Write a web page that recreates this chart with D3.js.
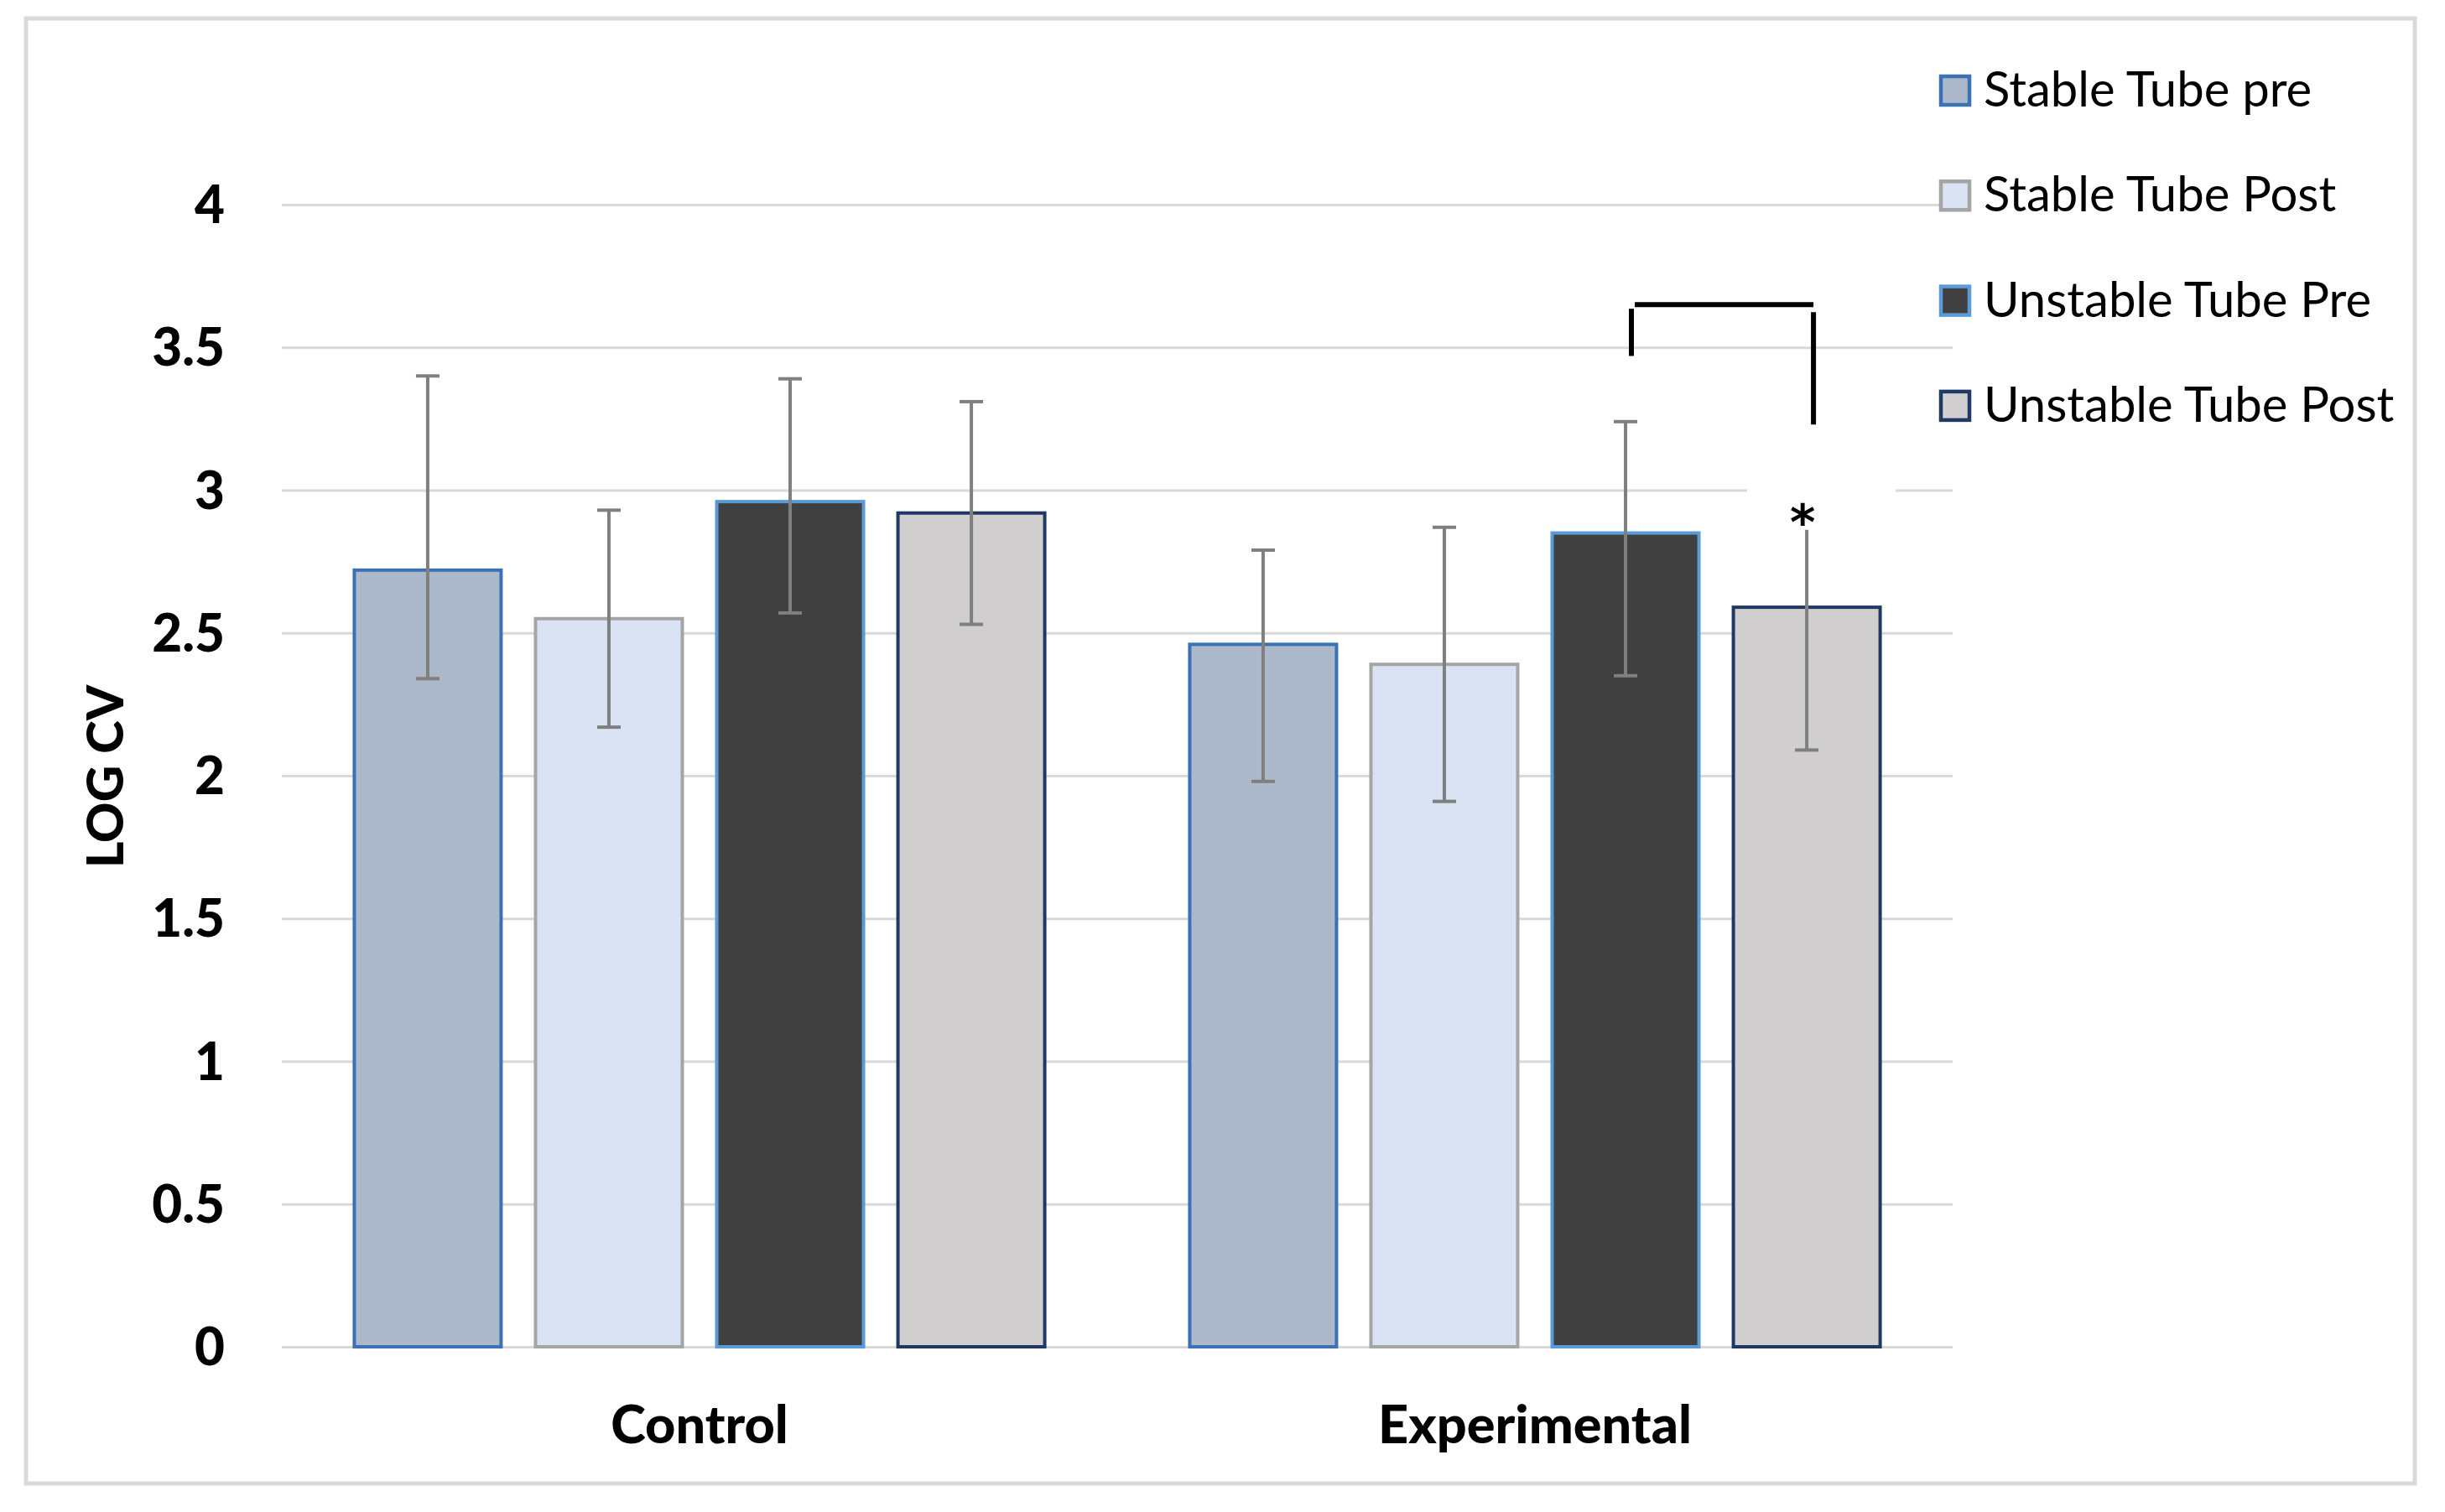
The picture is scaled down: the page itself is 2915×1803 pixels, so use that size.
<!DOCTYPE html>
<html><head><meta charset="utf-8">
<script src="https://cdn.jsdelivr.net/npm/d3@7"></script>
<style>html,body{margin:0;padding:0;background:#fff}</style>
</head><body>
<svg id="chart" width="2915" height="1803"></svg>
<script>
// ---- data ----
const categories = ["Control", "Experimental"];
const seriesNames = ["Stable Tube pre", "Stable Tube Post", "Unstable Tube Pre", "Unstable Tube Post"];
const stablePre = [2.72, 2.46];
const stablePost = [2.55, 2.39];
const unstablePre = [2.96, 2.85];
const unstablePost = [2.92, 2.59];
const stablePreHigh = [3.40, 2.79];
const stablePreLow = [2.34, 1.98];
const stablePostHigh = [2.93, 2.87];
const stablePostLow = [2.17, 1.91];
const unstablePreHigh = [3.39, 3.24];
const unstablePreLow = [2.57, 2.35];
const unstablePostHigh = [3.31, 2.87];
const unstablePostLow = [2.53, 2.09];
const yTicks = [0, 0.5, 1, 1.5, 2, 2.5, 3, 3.5, 4];
const yTickLabels = ["0", "0.5", "1", "1.5", "2", "2.5", "3", "3.5", "4"];
const yLabel = "LOG CV";
// significance bracket (Experimental: Unstable Pre vs Unstable Post)
const bracketTop = 3.65, bracketLeftEnd = 3.47, bracketRightEnd = 3.23;

(function () {
const seriesValues = [stablePre, stablePost, unstablePre, unstablePost];
const seriesHigh = [stablePreHigh, stablePostHigh, unstablePreHigh, unstablePostHigh];
const seriesLow = [stablePreLow, stablePostLow, unstablePreLow, unstablePostLow];

const fills = ["#adb9ca", "#dae3f3", "#404040", "#d0cece"];
const strokes = ["#3b72b4", "#a5a5a5", "#5b9bd5", "#1f3864"];

const rows = [];
categories.forEach((c, ci) => seriesNames.forEach((s, si) => rows.push({
  cat: c, ser: s, si, v: seriesValues[si][ci], hi: seriesHigh[si][ci], lo: seriesLow[si][ci]
})));

const svg = d3.select("#chart");
const FONT = "Lato, 'Open Sans', sans-serif";

// outer border
svg.append("rect").attr("x", 31).attr("y", 22).attr("width", 2848).attr("height", 1747)
  .attr("fill", "#fff").attr("stroke", "#d9d9d9").attr("stroke-width", 5);

const pL = 336, pR = 2328, pT = 244, pB = 1606;
const y = d3.scaleLinear().domain([0, 4]).range([pB, pT]);
const x0 = d3.scaleBand().domain(categories).range([pL, pR]).paddingInner(0).paddingOuter(0);
const x1 = d3.scaleBand().domain(seriesNames).range([0, x0.bandwidth()]).paddingInner(0.19).paddingOuter(0.4);

// y axis with gridlines
const yAxis = d3.axisLeft(y).tickValues(yTicks).tickFormat((d, i) => yTickLabels[i])
  .tickSize(-(pR - pL)).tickPadding(68);
const gy = svg.append("g").attr("transform", `translate(${pL},0)`).call(yAxis);
gy.select(".domain").remove();
gy.selectAll(".tick line").attr("stroke", "#d9d9d9").attr("stroke-width", 3);
gy.selectAll(".tick text").attr("fill", "#000").style("font-family", FONT)
  .style("font-weight", "900").style("font-size", "62px").attr("dy", "0.35em");

// bars
const g = svg.append("g");
g.selectAll("rect.bar").data(rows).join("rect").attr("class", "bar")
  .attr("x", d => x0(d.cat) + x1(d.ser))
  .attr("y", d => y(d.v))
  .attr("width", x1.bandwidth())
  .attr("height", d => y(0) - y(d.v))
  .attr("fill", d => fills[d.si])
  .attr("stroke", d => strokes[d.si])
  .attr("stroke-width", 4);

// error bars
const cx = d => x0(d.cat) + x1(d.ser) + x1.bandwidth() / 2;
const eb = svg.append("g").attr("stroke", "#7f7f7f").attr("stroke-width", 4);
eb.selectAll("line.v").data(rows).join("line").attr("class", "v")
  .attr("x1", cx).attr("x2", cx).attr("y1", d => y(d.hi)).attr("y2", d => y(d.lo));
eb.selectAll("line.h").data(rows).join("line").attr("class", "h")
  .attr("x1", d => cx(d) - 14).attr("x2", d => cx(d) + 14).attr("y1", d => y(d.hi)).attr("y2", d => y(d.hi));
eb.selectAll("line.l").data(rows).join("line").attr("class", "l")
  .attr("x1", d => cx(d) - 14).attr("x2", d => cx(d) + 14).attr("y1", d => y(d.lo)).attr("y2", d => y(d.lo));

// asterisk with white text box
const starRow = rows.find(d => d.cat === "Experimental" && d.ser === "Unstable Tube Post");
const preRow = rows.find(d => d.cat === "Experimental" && d.ser === "Unstable Tube Pre");
svg.append("rect").attr("x", cx(starRow) - 71).attr("y", y(starRow.hi) - 58)
  .attr("width", 177).attr("height", 61).attr("fill", "#fff");
svg.append("text").attr("x", cx(starRow) - 5).attr("y", y(starRow.hi) + 14)
  .attr("text-anchor", "middle").style("font-family", "'DejaVu Sans', sans-serif").style("font-weight", "bold")
  .style("font-size", "58px").text("*");

// bracket
const br = svg.append("g").attr("stroke", "#000").attr("stroke-width", 6);
br.append("line").attr("x1", cx(preRow) + 7).attr("x2", cx(preRow) + 7)
  .attr("y1", y(bracketTop) + 5).attr("y2", y(bracketLeftEnd));
br.append("line").attr("x1", cx(preRow) + 11).attr("x2", cx(starRow) + 8)
  .attr("y1", y(bracketTop)).attr("y2", y(bracketTop));
br.append("line").attr("x1", cx(starRow) + 8).attr("x2", cx(starRow) + 8)
  .attr("y1", y(bracketTop) + 9).attr("y2", y(bracketRightEnd));

// category labels
svg.append("g").selectAll("text").data(categories).join("text")
  .attr("x", d => x0(d) + x0.bandwidth() / 2).attr("y", 1721)
  .attr("text-anchor", "middle").style("font-family", FONT).style("font-weight", "900")
  .style("font-size", "63px").attr("fill", "#000").text(d => d);

// y label
svg.append("text").attr("transform", "translate(147,926) rotate(-90)")
  .attr("text-anchor", "middle").style("font-family", FONT).style("font-weight", "900")
  .style("font-size", "60px").attr("fill", "#000").text(yLabel);

// legend
const lg = svg.append("g").selectAll("g").data(seriesNames).join("g")
  .attr("transform", (d, i) => `translate(2312,${108 + i * 125.3})`);
lg.append("rect").attr("x", 2).attr("y", -17).attr("width", 34).attr("height", 34)
  .attr("fill", (d, i) => fills[i]).attr("stroke", (d, i) => strokes[i]).attr("stroke-width", 4.5);
lg.append("text").attr("x", 53).attr("y", 19).style("font-family", FONT)
  .style("font-size", "58px").attr("fill", "#000").text(d => d);
})();
</script>
</body></html>
